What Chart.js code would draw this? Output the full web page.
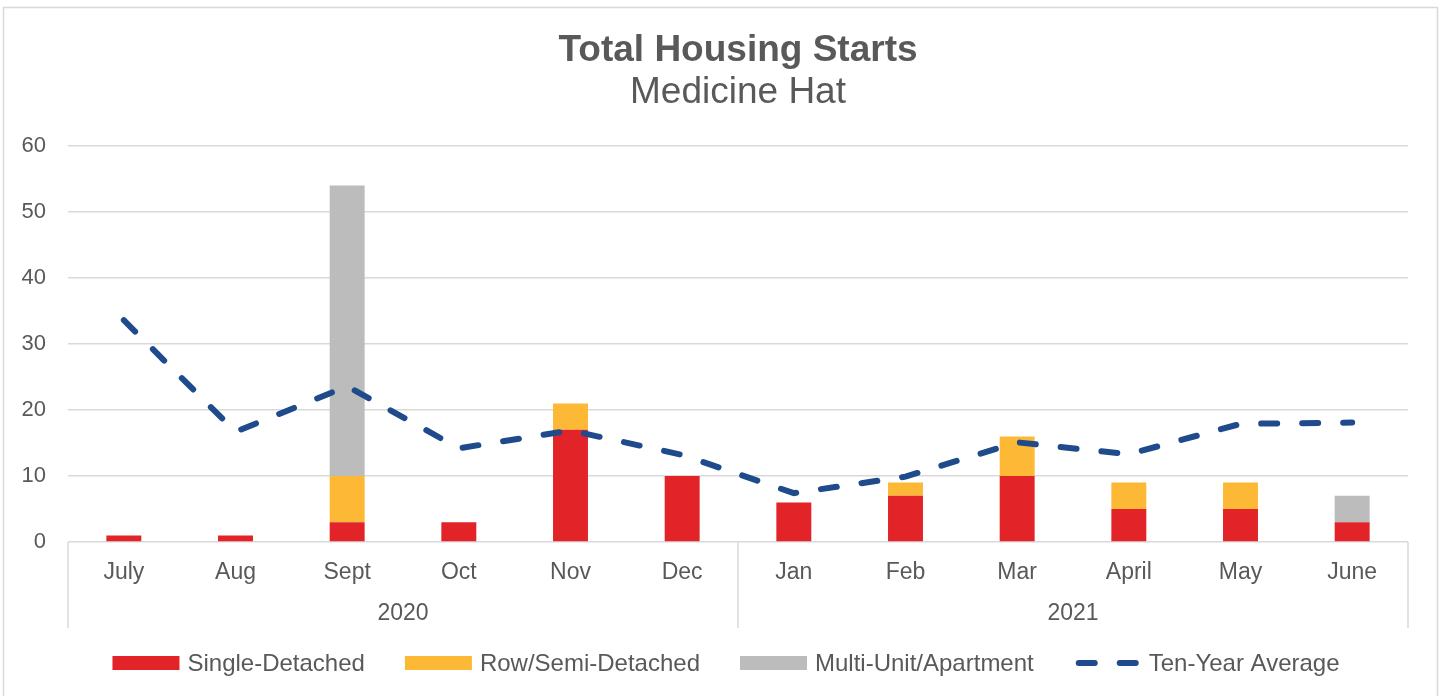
<!DOCTYPE html>
<html>
<head>
<meta charset="utf-8">
<script src="https://cdn.jsdelivr.net/npm/chart.js@4.4.1/dist/chart.umd.min.js"></script>
<style>
  html, body { margin: 0; padding: 0; background: #fff; }
  #chart { display: block; }
</style>
</head>
<body>
<canvas id="chart" width="1442" height="696"></canvas>
<script>
// chart data
const months = ["July", "Aug", "Sept", "Oct", "Nov", "Dec", "Jan", "Feb", "Mar", "April", "May", "June"];
const yearGroups = [
  { label: "2020", from: 0, to: 5 },
  { label: "2021", from: 6, to: 11 },
];
const singleDetached = [1, 1, 3, 3, 17, 10, 6, 7, 10, 5, 5, 3];
const rowSemiDetached = [0, 0, 7, 0, 4, 0, 0, 2, 6, 4, 4, 0];
const multiUnit = [0, 0, 44, 0, 0, 0, 0, 0, 0, 0, 0, 4];
const tenYearAverage = [33.6, 16.7, 23.6, 14.2, 16.9, 13.2, 7.4, 9.9, 15.1, 13.3, 17.9, 18.1];
const yMin = 0, yMax = 60, yStep = 10;

const TEXT = "#595959";
const GRID = "#D9D9D9";
const FONT = "'Liberation Sans', Arial, sans-serif";

// title, year row, group separators, legend
const decorPlugin = {
  id: "decor",
  beforeDraw(chart) {
    const ctx = chart.ctx;
    ctx.save();
    ctx.fillStyle = "#fff";
    ctx.fillRect(0, 0, chart.width, chart.height);
    ctx.restore();
  },
  afterDraw(chart) {
    const { ctx, chartArea: area, scales } = chart;
    const x = scales.x;
    const half = (x.getPixelForValue(1) - x.getPixelForValue(0)) / 2;
    ctx.save();

    // outer border
    ctx.strokeStyle = GRID;
    ctx.lineWidth = 1.5;
    ctx.strokeRect(3.5, 7.5, 1434, 700);

    // group separators + year labels
    ctx.lineWidth = 1.5;
    ctx.strokeStyle = GRID;
    ctx.fillStyle = TEXT;
    ctx.font = "23px " + FONT;
    ctx.textAlign = "center";
    ctx.textBaseline = "middle";
    yearGroups.forEach((g, i) => {
      const l = x.getPixelForValue(g.from) - half;
      const r = x.getPixelForValue(g.to) + half;
      ctx.beginPath();
      if (i === 0) { ctx.moveTo(l, area.bottom); ctx.lineTo(l, 628); }
      ctx.moveTo(r, area.bottom); ctx.lineTo(r, 628);
      ctx.stroke();
      ctx.fillText(g.label, (l + r) / 2, 614);
    });

    // titles
    const cx = (area.left + area.right) / 2;
    ctx.textBaseline = "alphabetic";
    ctx.font = "bold 37px " + FONT;
    ctx.fillText("Total Housing Starts", cx, 61);
    ctx.font = "37px " + FONT;
    ctx.fillText("Medicine Hat", cx, 103);

    // legend
    ctx.font = "24px " + FONT;
    const items = chart.data.datasets;
    const boxW = 67, gapBox = 8, gapItem = 40;
    let total = 0;
    items.forEach((d, i) => {
      total += boxW + gapBox + ctx.measureText(d.label).width + (i < items.length - 1 ? gapItem : 0);
    });
    let lx = 726 - total / 2;
    const ly = 663;
    ctx.textAlign = "left";
    ctx.textBaseline = "middle";
    items.forEach(d => {
      if (d.type === "line") {
        ctx.strokeStyle = d.borderColor;
        ctx.lineWidth = d.borderWidth;
        ctx.lineCap = "round";
        ctx.setLineDash([16, 25]);
        ctx.beginPath();
        ctx.moveTo(lx + 5, ly);
        ctx.lineTo(lx + boxW, ly);
        ctx.stroke();
        ctx.setLineDash([]);
      } else {
        ctx.fillStyle = d.backgroundColor;
        ctx.fillRect(lx, ly - 7, boxW, 14);
      }
      ctx.fillStyle = TEXT;
      ctx.fillText(d.label, lx + boxW + gapBox, ly + 1);
      lx += boxW + gapBox + ctx.measureText(d.label).width + gapItem;
    });
    ctx.restore();
  },
};

new Chart(document.getElementById("chart"), {
  data: {
    labels: months,
    datasets: [
      {
        type: "bar",
        label: "Single-Detached",
        data: singleDetached,
        backgroundColor: "#E22328",
        stack: "starts",
        order: 2,
      },
      {
        type: "bar",
        label: "Row/Semi-Detached",
        data: rowSemiDetached,
        backgroundColor: "#FDB935",
        stack: "starts",
        order: 2,
      },
      {
        type: "bar",
        label: "Multi-Unit/Apartment",
        data: multiUnit,
        backgroundColor: "#BCBCBC",
        stack: "starts",
        order: 2,
      },
      {
        type: "line",
        label: "Ten-Year Average",
        data: tenYearAverage,
        borderColor: "#1F4A8C",
        backgroundColor: "#1F4A8C",
        borderWidth: 6,
        borderDash: [16, 25],
        borderCapStyle: "round",
        pointRadius: 0,
        tension: 0,
        fill: false,
        stack: "avg",
        order: 1,
      },
    ],
  },
  options: {
    responsive: false,
    animation: false,
    devicePixelRatio: 1,
    layout: { padding: { top: 146, left: 8, right: 34, bottom: 94 } },
    datasets: { bar: { barPercentage: 0.313, categoryPercentage: 1 } },
    plugins: {
      legend: { display: false },
      title: { display: false },
      tooltip: { enabled: false },
    },
    scales: {
      x: {
        stacked: true,
        afterFit: s => { s.height = 60; },
        grid: { display: false },
        border: { display: false },
        ticks: { color: TEXT, font: { family: FONT, size: 23 }, padding: 9, maxRotation: 0 },
      },
      y: {
        stacked: true,
        min: yMin,
        max: yMax,
        afterFit: s => { s.width = 60; },
        grid: { color: GRID, lineWidth: 1.5, drawTicks: false },
        border: { display: false },
        ticks: { stepSize: yStep, color: TEXT, font: { family: FONT, size: 22 }, padding: 22 },
      },
    },
  },
  plugins: [decorPlugin],
});
</script>
</body>
</html>
